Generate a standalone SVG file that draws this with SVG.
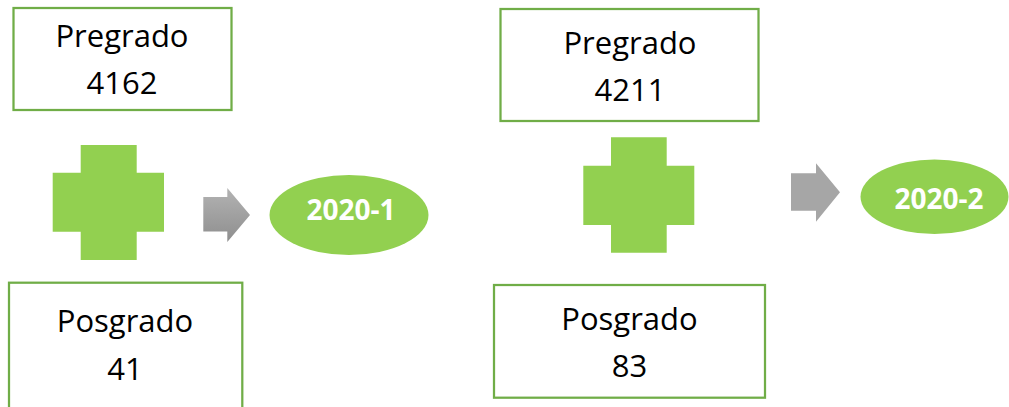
<svg xmlns="http://www.w3.org/2000/svg" width="1009" height="407" viewBox="0 0 1009 407">
  <style>
    .box { fill: #ffffff; stroke: #70AD47; stroke-width: 2.25; }
    .lbl { font-family: "Open Sans", "Liberation Sans", sans-serif; font-size: 31px; fill: #000000; text-anchor: middle; }
    .plus { fill: #92D050; }
    .oval { fill: #92D050; }
    .olbl { font-family: "Open Sans", "Liberation Sans", sans-serif; font-size: 28px; font-weight: bold; fill: #ffffff; text-anchor: middle; }
    .arrow1 { fill: url(#grayGrad); }
    .arrow2 { fill: #A6A6A6; }
  </style>
  <defs>
    <linearGradient id="grayGrad" x1="0" y1="0" x2="0" y2="1">
      <stop offset="0" stop-color="#B3B3B3"/>
      <stop offset="1" stop-color="#8E8E8E"/>
    </linearGradient>
  </defs>
  <rect width="1009" height="407" fill="#ffffff"/>

  <g id="pregrado-1">
    <rect class="box" x="13.5" y="8" width="218" height="102"/>
    <text class="lbl" x="122" y="46.7">Pregrado</text>
    <text class="lbl" x="122" y="94">4162</text>
  </g>
  <g id="plus-1">
    <path class="plus" d="M80.7 145 H136.7 V172.7 H164 V231.7 H136.7 V260 H80.7 V231.7 H52.7 V172.7 H80.7 Z"/>
  </g>
  <g id="posgrado-1">
    <rect class="box" x="9" y="282.7" width="233.3" height="140"/>
    <text class="lbl" x="125" y="331.7">Posgrado</text>
    <text class="lbl" x="125" y="380">41</text>
  </g>
  <g id="periodo-1">
    <ellipse class="oval" cx="349" cy="215" rx="79.5" ry="40"/>
    <text class="olbl" x="351" y="219.5">2020-1</text>
  </g>

  <g id="pregrado-2">
    <rect class="box" x="500.5" y="9" width="258" height="112"/>
    <text class="lbl" x="630" y="54">Pregrado</text>
    <text class="lbl" x="630" y="101">4211</text>
  </g>
  <g id="plus-2">
    <path class="plus" d="M611 137.3 H666.7 V165.7 H694.3 V225 H666.7 V252.7 H611 V225 H583.3 V165.7 H611 Z"/>
  </g>
  <g id="posgrado-2">
    <rect class="box" x="494" y="285" width="271" height="112.7"/>
    <text class="lbl" x="629.5" y="330">Posgrado</text>
    <text class="lbl" x="629.5" y="376.7">83</text>
  </g>
  <g id="periodo-2">
    <ellipse class="oval" cx="934.5" cy="196.7" rx="74" ry="37.3"/>
    <text class="olbl" x="939" y="208.5">2020-2</text>
  </g>

  <g id="connectors">
    <path class="arrow1" d="M203.3 197 H227.3 V188 L250 215 L227.3 242 V231.5 H203.3 Z"/>
    <path class="arrow2" d="M791 173.3 H816 V163.3 L840 192.3 L816 221.7 V210.7 H791 Z"/>
  </g>
</svg>
